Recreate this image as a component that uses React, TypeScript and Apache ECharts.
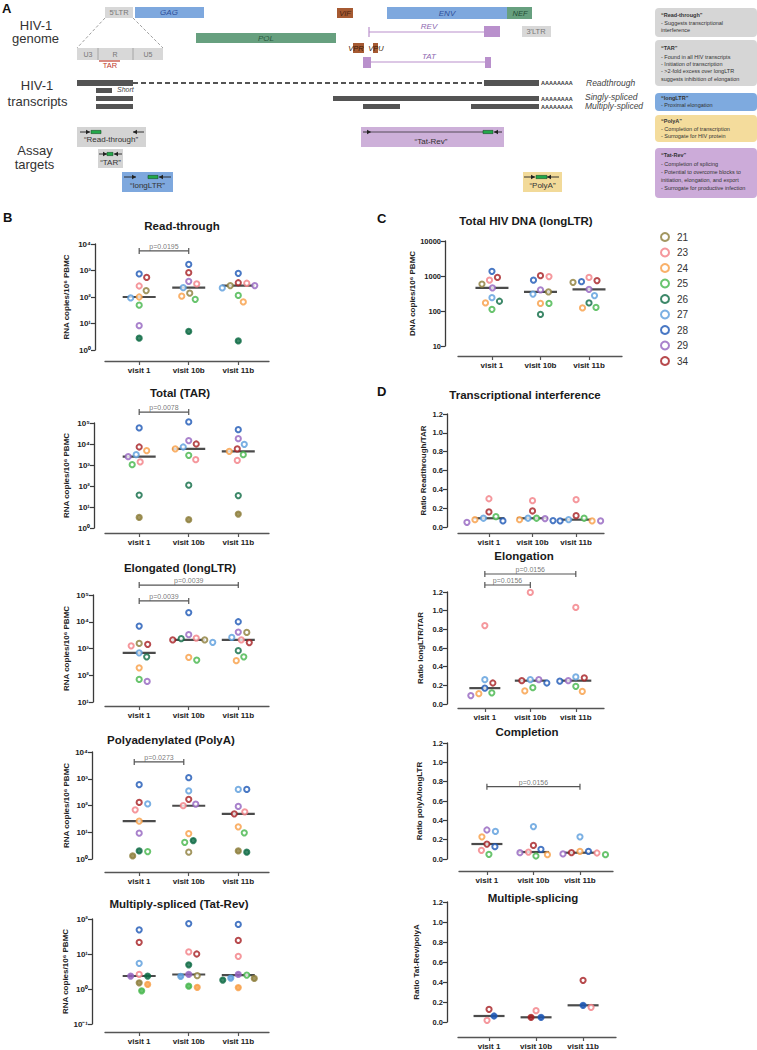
import React, { useEffect, useRef } from "react";
import * as echarts from "echarts";

const FONT = "'Liberation Sans', Arial, Helvetica, sans-serif";

const PATIENTS = ["21", "23", "24", "25", "26", "27", "28", "29", "34"];
const COLORS = ["#8c7d3a", "#f27e84", "#f79d45", "#43b54a", "#0d6a44", "#5a9cdc", "#1c56b5", "#9463bf", "#a51d21"];
const VISITS = ["visit 1", "visit 10b", "visit 11b"];

// values per visit, in PATIENTS order (null = not available)
const readThrough = [
  [175, 260, 100, 49, 2.8, 92, 740, 8.3, 550],
  [140, 310, 107, 82, 5, 225, 1700, 390, 830],
  [270, 330, 65, 115, 2.2, 220, 780, 270, 345],
];
const readThroughFilled = [["26"], ["26"], ["26"]];

const totalTAR = [
  [3.2, 1400, 4800, 1040, 37, 3100, 58000, 2500, 7200],
  [2.5, 1800, 5800, 2900, 110, 7200, 112000, 14500, 10000],
  [4.6, 1660, 4500, 3100, 35, 9600, 48000, 18000, 5800],
];
const totalTARFilled = [["21"], ["21"], ["21"]];

const elongatedLTR = [
  [1550, 1260, 190, 70, 490, 690, 6900, 59, 1440],
  [2100, 2450, 470, 370, 2330, 1700, 22000, 3300, 2100],
  [4000, 2100, 350, 490, 830, 2600, 10000, 4100, 1660],
];
const elongatedFilled = [[], [], []];

const polyA = [
  [1.3, 69, 26, 1.9, 2.0, 115, 600, 9.2, 130],
  [1.8, 98, 8.9, 4.2, 4.9, 350, 1100, 112, 170],
  [2.0, 58, 16, 9.5, 1.8, 400, 400, 92, 49],
];
const polyAFilled = [["21", "26"], ["26"], ["21", "26"]];

const tatRev = [
  [1.5, 2.6, 1.35, 0.89, 2.35, 5.4, 49, 2.35, 21.5],
  [2.4, 11.5, 1.12, 1.2, 4.9, 2.3, 74, 2.6, 10],
  [2.0, 8.6, 1.1, 2.5, 1.8, 2.05, 70, 2.6, 24.5],
];
const tatRevFilled = [["21", "24", "25", "26", "29"], ["24", "25", "26", "27", "29"], ["21", "24", "26", "27", "29"]];

const totalDNA = [
  [590, 760, 170, 112, 190, 240, 1360, 455, 910],
  [350, 960, 165, 165, 80, 305, 760, 400, 1020],
  [660, 910, 122, 126, 170, 275, 690, 415, 740],
];

const ratioInterference = [
  [null, 0.30, 0.078, 0.11, null, 0.093, 0.064, 0.05, 0.16],
  [null, 0.28, 0.078, 0.093, null, 0.093, 0.068, 0.089, 0.17],
  [null, 0.29, 0.064, 0.093, null, 0.078, 0.064, 0.064, 0.12],
];
const ratioElongation = [
  [null, 0.84, 0.11, 0.12, null, 0.26, 0.17, 0.09, 0.225],
  [null, 1.195, 0.14, 0.175, null, 0.26, 0.225, 0.26, 0.25],
  [null, 1.035, 0.135, 0.19, null, 0.29, 0.245, 0.25, 0.28],
];
const ratioCompletion = [
  [null, 0.09, 0.23, 0.048, null, 0.285, 0.127, 0.30, 0.155],
  [null, 0.072, 0.045, 0.031, null, 0.335, 0.10, 0.065, 0.14],
  [null, 0.062, 0.08, 0.045, null, 0.23, 0.079, 0.052, 0.065],
];
const ratioSplicing = [
  [null, 0.017, null, null, null, null, 0.06, null, 0.127],
  [null, 0.113, null, null, null, null, 0.047, null, 0.047],
  [null, 0.147, null, null, null, null, 0.167, null, 0.417],
];
const ratioSplicingFilled = [["28"], ["28", "34"], ["28"]];

const SUP: Record<string, string> = { "0": "⁰", "1": "¹", "2": "²", "3": "³", "4": "⁴", "5": "⁵", "6": "⁶", "-": "⁻" };
const powLabel = (v: number) =>
  "10" + String(Math.round(Math.log10(v))).split("").map((c) => SUP[c] || c).join("");

function median(a: number[]) {
  const s = [...a].sort((x, y) => x - y);
  const n = s.length;
  return n % 2 ? s[(n - 1) / 2] : (s[n / 2 - 1] + s[n / 2]) / 2;
}

type Bracket = { from: number; to: number; y: number; label: string };
type Panel = {
  title: string; tx: number; ty: number;
  left: number; top: number; width: number; height: number;
  xMin: number; xMax: number; xOff: number; yOff: number;
  log: boolean; yMin: number; yMax: number; yInterval: number;
  yName: string; nameGap: number; labels: "pow" | "plain" | "fixed";
  values: (number | null)[][]; filled: string[][]; brackets: Bracket[]; medW: number;
};

const B = { left: 105, width: 164, xMin: -0.69, xMax: 2.62 };
const RNA = "RNA copies/10⁶ PBMC";
const none = [[], [], []];

const PANELS: Panel[] = [
  { title: "Read-through", tx: 182, ty: 226, ...B, top: 244, height: 106, xOff: 11, yOff: 10, log: true, yMin: 1, yMax: 1e4, yInterval: 1,
    yName: RNA, nameGap: 25, labels: "pow", values: readThrough, filled: readThroughFilled,
    brackets: [{ from: 0, to: 1, y: 5500, label: "p=0.0195" }], medW: 33 },
  { title: "Total (TAR)", tx: 180, ty: 393, ...B, top: 423, height: 105, xOff: 5, yOff: 11, log: true, yMin: 1, yMax: 1e5, yInterval: 1,
    yName: RNA, nameGap: 24, labels: "pow", values: totalTAR, filled: totalTARFilled,
    brackets: [{ from: 0, to: 1, y: 330000, label: "p=0.0078" }], medW: 33 },
  { title: "Elongated (longLTR)", tx: 180, ty: 568, ...B, top: 595, height: 107, xOff: 4, yOff: 12, log: true, yMin: 10, yMax: 1e5, yInterval: 1,
    yName: RNA, nameGap: 23, labels: "pow", values: elongatedLTR, filled: elongatedFilled,
    brackets: [{ from: 0, to: 2, y: 235000, label: "p=0.0039" }, { from: 0, to: 1, y: 60000, label: "p=0.0039" }], medW: 33 },
  { title: "Polyadenylated (PolyA)", tx: 171, ty: 740, ...B, top: 752, height: 107, xOff: 13, yOff: 13, log: true, yMin: 1, yMax: 1e4, yInterval: 1,
    yName: RNA, nameGap: 22, labels: "pow", values: polyA, filled: polyAFilled,
    brackets: [{ from: -0.1, to: 0.9, y: 4250, label: "p=0.0273" }], medW: 33 },
  { title: "Multiply-spliced (Tat-Rev)", tx: 179, ty: 904, ...B, top: 919, height: 105, xOff: 8, yOff: 13, log: true, yMin: 0.1, yMax: 100, yInterval: 1,
    yName: RNA, nameGap: 22, labels: "pow", values: tatRev, filled: tatRevFilled, brackets: [], medW: 33 },
  { title: "Total HIV DNA (longLTR)", tx: 526, ty: 221, left: 458, width: 164, xMin: -0.7, xMax: 2.68, top: 241, height: 105, xOff: 10, yOff: 13,
    log: true, yMin: 10, yMax: 10000, yInterval: 1, yName: "DNA copies/10⁶ PBMC", nameGap: 27, labels: "plain",
    values: totalDNA, filled: none, brackets: [], medW: 33 },
  { title: "Transcriptional interference", tx: 525, ty: 395, left: 458, width: 146, xMin: -0.71, xMax: 2.64, top: 414, height: 113, xOff: 6, yOff: 11,
    log: false, yMin: 0, yMax: 1.2, yInterval: 0.2, yName: "Ratio Readthrough/TAR", nameGap: 20, labels: "fixed",
    values: ratioInterference, filled: none, brackets: [], medW: 31 },
  { title: "Elongation", tx: 524, ty: 556, left: 458, width: 146, xMin: -0.59, xMax: 2.62, top: 592, height: 112, xOff: 4, yOff: 11,
    log: false, yMin: 0, yMax: 1.2, yInterval: 0.2, yName: "Ratio longLTR/TAR", nameGap: 23, labels: "fixed",
    values: ratioElongation, filled: none,
    brackets: [{ from: 0, to: 2, y: 1.393, label: "p=0.0156" }, { from: 0, to: 1, y: 1.275, label: "p=0.0156" }], medW: 31 },
  { title: "Completion", tx: 527, ty: 732, left: 459, width: 154, xMin: -0.6, xMax: 2.71, top: 743, height: 116, xOff: 12, yOff: 12,
    log: false, yMin: 0, yMax: 1.2, yInterval: 0.2, yName: "Ratio polyA/longLTR", nameGap: 24, labels: "fixed",
    values: ratioCompletion, filled: none, brackets: [{ from: 0, to: 2, y: 0.748, label: "p=0.0156" }], medW: 31 },
  { title: "Multiple-splicing", tx: 533, ty: 898, left: 458, width: 158, xMin: -0.66, xMax: 2.7, top: 902, height: 120, xOff: 15, yOff: 11,
    log: false, yMin: 0, yMax: 1.2, yInterval: 0.2, yName: "Ratio Tat-Rev/polyA", nameGap: 27, labels: "fixed",
    values: ratioSplicing, filled: ratioSplicingFilled, brackets: [], medW: 31 },
];

// simple beeswarm: spread points horizontally (in pixels) so that circles do not overlap
function swarm(py: (number | null)[], diam: number): number[] {
  const out = py.map(() => 0);
  const idx = py.map((_, i) => i).filter((i) => py[i] != null).sort((a, b) => (py[b] as number) - (py[a] as number));
  const placed: { x: number; y: number }[] = [];
  for (const i of idx) {
    const y = py[i] as number;
    let best = 0;
    for (let k = 0; k < 400; k++) {
      const step = Math.ceil(k / 2) * 0.5;
      const cand = k === 0 ? 0 : k % 2 === 1 ? step : -step;
      if (placed.every((p) => (p.x - cand) ** 2 + (p.y - y) ** 2 >= diam * diam)) { best = cand; break; }
    }
    placed.push({ x: best, y });
    out[i] = best;
  }
  return out;
}

function buildOption() {
  const grid: any[] = [], xAxis: any[] = [], yAxis: any[] = [], series: any[] = [];
  const axisColor = "#3a3a3a";
  PANELS.forEach((p, g) => {
    grid.push({ left: p.left, top: p.top, width: p.width, height: p.height });
    xAxis.push({
      type: "value", gridIndex: g, min: p.xMin, max: p.xMax, offset: p.xOff, splitLine: { show: false },
      axisLine: { show: true, onZero: false, lineStyle: { color: "#555", width: 1.3 } },
      axisTick: { show: true, customValues: [0, 1, 2], length: 4, lineStyle: { color: "#555", width: 1.2 } },
      axisLabel: { customValues: [0, 1, 2], formatter: (v: number) => VISITS[Math.round(v)] || "", fontSize: 8, fontWeight: "bold",
        color: "#222", fontFamily: FONT, margin: 5 },
    });
    yAxis.push({
      type: p.log ? "log" : "value", logBase: 10, gridIndex: g, min: p.yMin, max: p.yMax, interval: p.yInterval, offset: p.yOff,
      splitLine: { show: false },
      axisLine: { show: true, onZero: false, lineStyle: { color: axisColor, width: 1.3 } },
      axisTick: { show: true, length: 4, lineStyle: { color: axisColor, width: 1.2 } },
      axisLabel: {
        fontSize: p.labels === "pow" ? 8 : 7.5, fontWeight: "bold", color: "#222", fontFamily: FONT, margin: 4,
        formatter: (v: number) => (p.labels === "pow" ? powLabel(v) : p.labels === "plain" ? String(Math.round(v)) : v.toFixed(1)),
      },
      name: p.yName, nameLocation: "middle", nameRotate: 90, nameGap: p.nameGap,
      nameTextStyle: { fontSize: 8, fontWeight: "bold", color: "#222", fontFamily: FONT },
    });
    const span = p.log ? Math.log10(p.yMax) - Math.log10(p.yMin) : p.yMax - p.yMin;
    const toPx = (v: number) => ((p.log ? Math.log10(v) - Math.log10(p.yMin) : v - p.yMin) / span) * p.height;
    const unitPerPx = (p.xMax - p.xMin) / p.width;
    const offsets = p.values.map((vals) => swarm(vals.map((v) => (v == null ? null : toPx(v))), 8.2));
    // medians
    series.push({
      type: "scatter", xAxisIndex: g, yAxisIndex: g, silent: true, z: 2, symbol: "rect", symbolSize: [p.medW, 2.2],
      itemStyle: { color: "#1e1e1e" }, clip: false,
      data: p.values.map((vals, vi) => [vi, median(vals.filter((v) => v != null) as number[])]),
    });
    // brackets
    p.brackets.forEach((b) => {
      series.push({
        type: "line", xAxisIndex: g, yAxisIndex: g, silent: true, z: 2, clip: false, symbol: "rect", symbolSize: [1.2, 6],
        itemStyle: { color: "#555" }, lineStyle: { color: "#555", width: 1.2 },
        data: [[b.from, b.y], [b.to, b.y]],
      });
      series.push({
        type: "scatter", xAxisIndex: g, yAxisIndex: g, silent: true, z: 2, clip: false, symbolSize: 0,
        label: { show: true, position: "top", distance: 1, formatter: b.label, fontSize: 7, color: "#555", fontFamily: FONT },
        data: [[(b.from + b.to) / 2, b.y]],
      });
    });
    // points, one series per patient
    PATIENTS.forEach((pid, pi) => {
      const col = COLORS[pi];
      const data: any[] = [];
      p.values.forEach((vals, vi) => {
        const v = vals[pi];
        if (v == null) return;
        const filled = p.filled[vi].includes(pid);
        data.push({ value: [vi + offsets[vi][pi] * unitPerPx, v], itemStyle: filled ? { color: col } : undefined });
      });
      series.push({
        type: "scatter", name: pid, xAxisIndex: g, yAxisIndex: g, z: 3, clip: false, symbol: "circle", symbolSize: 5.2,
        itemStyle: { color: "#ffffff", borderColor: col, borderWidth: 2 }, data,
      });
    });
  });

  // ---------- graphic (panel A diagram, titles, panel letters) ----------
  const G: any[] = [];
  const rect = (x: number, y: number, w: number, h: number, fill: string, r = 0) =>
    G.push({ type: "rect", silent: true, shape: { x, y, width: w, height: h, r }, style: { fill } });
  const line = (x1: number, y1: number, x2: number, y2: number, stroke: string, lw = 1, dash?: number[]) =>
    G.push({ type: "line", silent: true, shape: { x1, y1, x2, y2 }, style: { stroke, lineWidth: lw, lineDash: dash } });
  const text = (x: number, y: number, t: string, o: any = {}) =>
    G.push({
      type: "text", silent: true, x, y,
      style: {
        text: t, fill: o.fill || "#333", fontSize: o.size || 8, fontWeight: o.bold ? "bold" : "normal",
        fontStyle: o.italic ? "italic" : "normal", fontFamily: FONT,
        align: o.align || "center", textAlign: o.align || "center", verticalAlign: "middle", textVerticalAlign: "middle",
      },
    });
  const rArrow = (x1: number, x2: number, y: number) => {
    line(x1, y, x2, y, "#222", 0.9);
    G.push({ type: "polygon", silent: true, shape: { points: [[x2 - 4, y - 2.3], [x2, y], [x2 - 4, y + 2.3]] }, style: { fill: "#222" } });
  };
  const lArrow = (x1: number, x2: number, y: number) => {
    line(x1, y, x2, y, "#222", 0.9);
    G.push({ type: "polygon", silent: true, shape: { points: [[x1 + 4, y - 2.3], [x1, y], [x1 + 4, y + 2.3]] }, style: { fill: "#222" } });
  };
  const probe = (x1: number, x2: number, y: number) =>
    G.push({ type: "rect", silent: true, shape: { x: x1, y: y - 1.6, width: x2 - x1, height: 3.2 }, style: { fill: "#22a84a", stroke: "#114d22", lineWidth: 0.6 } });

  const gray = "#d8d8d8", blue = "#7ea8de", green = "#67a07f", brown = "#a65a32", purple = "#b990cc";
  // panel letters
  text(2, 8, "A", { size: 13, bold: true, align: "left", fill: "#111" });
  text(3, 217, "B", { size: 13, bold: true, align: "left", fill: "#111" });
  text(377, 218, "C", { size: 13, bold: true, align: "left", fill: "#111" });
  text(377, 391, "D", { size: 13, bold: true, align: "left", fill: "#111" });
  // row labels
  text(36, 25, "HIV-1", { size: 13 }); text(35.5, 38, "genome", { size: 13 });
  text(37, 85, "HIV-1", { size: 13 }); text(37.5, 101, "transcripts", { size: 13 });
  text(35, 150, "Assay", { size: 13 }); text(34.5, 164, "targets", { size: 13 });
  // genome
  rect(105, 7, 28, 11, gray); text(119, 12.5, "5'LTR", { size: 7.5, fill: "#777" });
  rect(135, 7, 69, 11, blue); text(169, 12.5, "GAG", { size: 8, italic: true, fill: "#2e4f9a" });
  rect(337, 8, 16, 10, brown); text(345, 13, "VIF", { size: 7.5, italic: true, fill: "#4a2210" });
  rect(387, 7, 120, 12, blue); text(447, 13, "ENV", { size: 8, italic: true, fill: "#2e4f9a" });
  rect(507, 7, 25, 12, green); text(520, 13, "NEF", { size: 7.5, italic: true, fill: "#244c36" });
  rect(196, 33, 140, 10, green); text(266, 38, "POL", { size: 8, italic: true, fill: "#2a5a40" });
  line(369, 32, 484, 32, purple, 1.2); line(369, 27, 369, 37, purple, 1.2); rect(484, 26, 16, 11, purple);
  text(429, 26, "REV", { size: 8, italic: true, fill: "#8e68b0" });
  rect(522, 26, 29, 11, gray); text(536, 31.5, "3'LTR", { size: 7.5, fill: "#777" });
  rect(353, 43, 11, 10, brown); text(356, 48, "VPR", { size: 7.5, italic: true, fill: "#3a1a08" });
  rect(373, 43, 5, 10, brown); text(376, 48, "VPU", { size: 7.5, italic: true, fill: "#3a1a08" });
  rect(363, 57, 8, 11, purple); line(371, 62, 485, 62, purple, 1.2); rect(485, 57, 6, 11, purple);
  text(429, 56, "TAT", { size: 8, italic: true, fill: "#8e68b0" });
  line(105, 18, 77, 48, "#888", 0.8, [3, 2]); line(133, 18, 163, 48, "#888", 0.8, [3, 2]);
  rect(77, 48, 86, 12, gray); line(98, 48, 98, 60, "#999", 0.8); line(133, 48, 133, 60, "#999", 0.8);
  text(88, 54, "U3", { size: 7, fill: "#777" }); text(115, 54, "R", { size: 7, fill: "#777" }); text(148, 54, "U5", { size: 7, fill: "#777" });
  line(99, 61, 120, 61, "#c0392b", 1.2); text(110, 65.5, "TAR", { size: 7.5, fill: "#c0392b" });
  // transcripts
  const tr = "#545454";
  rect(77, 80, 56, 6, tr); line(133, 83, 484, 83, tr, 2, [5, 3]); rect(484, 80, 55, 6, tr);
  rect(96, 88, 16, 5, tr); text(117, 89, "Short", { size: 7, italic: true, align: "left", fill: "#444" });
  rect(96, 96, 37, 5, tr); rect(333, 96, 206, 5, tr);
  rect(96, 104, 37, 5, tr); rect(363, 104, 37, 5, tr); rect(471, 104, 68, 5, tr);
  [83, 98.5, 106.5].forEach((y) => text(541, y, "AAAAAAAA", { size: 5.5, bold: true, align: "left", fill: "#333" }));
  text(586, 82.5, "Readthrough", { size: 8.5, italic: true, align: "left", fill: "#444" });
  text(585, 97, "Singly-spliced", { size: 8.5, italic: true, align: "left", fill: "#444" });
  text(585, 106, "Multiply-spliced", { size: 8.5, italic: true, align: "left", fill: "#444" });
  // assay targets
  rect(77, 127, 69, 20, "#d4d4d4"); rArrow(80, 90, 132); probe(91, 101, 132); lArrow(133, 144, 132);
  text(111, 139.5, "“Read-through”", { size: 8, fill: "#333" });
  rect(98, 149, 25, 19, "#d4d4d4"); rArrow(99, 107, 154); probe(107, 113, 154); lArrow(114, 122, 154);
  text(110.5, 162, "“TAR”", { size: 8, fill: "#333" });
  rect(122, 172, 51, 20, blue); rArrow(124, 136, 177); probe(148, 158, 177); lArrow(159, 171, 177);
  text(147.5, 185, "“longLTR”", { size: 8, fill: "#333" });
  rect(361, 127, 143, 20, "#cdb0d9"); rArrow(363, 371, 132); line(371, 132, 483, 132, "#222", 0.7); probe(483, 493, 132); lArrow(494, 502, 132);
  text(431, 141, "“Tat-Rev”", { size: 8, fill: "#333" });
  rect(523, 172, 39, 20, "#f2da99"); rArrow(524, 535, 177); probe(536, 547, 177); lArrow(547, 559, 177);
  text(542.5, 185, "“PolyA”", { size: 8, fill: "#333" });
  // right explanation boxes
  rect(655, 8, 102, 29, "#d6d6d6", 4);
  rect(655, 40, 102, 46, "#d6d6d6", 4);
  rect(655, 93, 102, 18, "#7eaadf", 4);
  rect(655, 115, 102, 27, "#f4dc9c", 4);
  rect(655, 148, 102, 50, "#ccabd9", 4);
  const note = (y: number, t: string, bold = false) => text(661, y, t, { size: 5.5, bold, align: "left", fill: "#333" });
  note(15, "“Read-through”", true); note(23, "- Suggests transcriptional"); note(29.5, "interference");
  note(48, "“TAR”", true); note(57, "- Found in all HIV transcripts"); note(63.5, "- Initiation of transcription");
  note(71, "- >2-fold excess over longLTR"); note(78.5, "suggests inhibition of elongation");
  note(97.5, "“longLTR”", true); note(104.5, "- Proximal elongation");
  note(121, "“PolyA”", true); note(128.5, "- Completion of transcription"); note(135.5, "- Surrogate for HIV protein");
  note(154.5, "“Tat-Rev”", true); note(164, "- Completion of splicing"); note(172, "- Potential to overcome blocks to");
  note(180, "initiation, elongation, and export"); note(188, "- Surrogate for productive infection");
  // chart titles
  PANELS.forEach((p) => text(p.tx, p.ty, p.title, { size: 11.5, bold: true, fill: "#1a1a1a" }));

  return {
    animation: false,
    backgroundColor: "#ffffff",
    textStyle: { fontFamily: FONT },
    grid, xAxis, yAxis, series,
    legend: {
      orient: "vertical", left: 655, top: 227, itemWidth: 8, itemHeight: 8, itemGap: 5.5, selectedMode: false,
      data: PATIENTS.map((name) => ({ name, icon: "circle" })),
      textStyle: { fontSize: 10, color: "#333", fontFamily: FONT, padding: [0, 0, 0, 3] },
    },
    graphic: { elements: G },
  };
}

export default function App() {
  const ref = useRef<HTMLDivElement>(null);
  useEffect(() => {
    if (!ref.current) return;
    const chart = echarts.init(ref.current, undefined, { renderer: "svg" });
    chart.setOption(buildOption() as any);
    return () => chart.dispose();
  }, []);
  return <div ref={ref} style={{ position: "absolute", left: 0, top: 0, width: 757, height: 1050, background: "#fff" }} />;
}
